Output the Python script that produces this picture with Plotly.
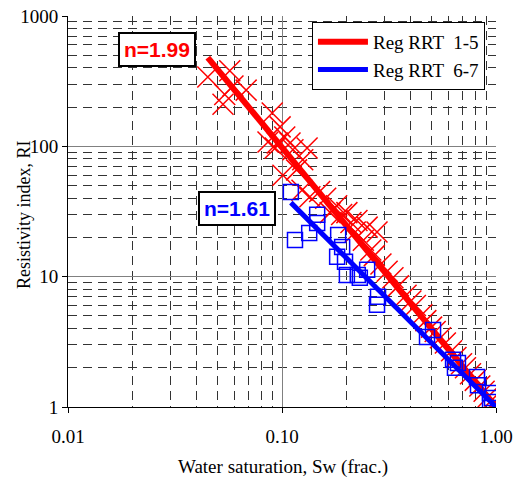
import plotly.graph_objects as go

# RRT 1-5 data (red crosses)
red_sw = [0.045, 0.057, 0.054, 0.053, 0.059, 0.068, 0.090, 0.098, 0.086, 0.093,
          0.109, 0.1125, 0.095, 0.103, 0.125, 0.131, 0.101, 0.117, 0.124, 0.135,
          0.168, 0.201, 0.224, 0.250, 0.278, 0.150, 0.160, 0.180, 0.190, 0.210,
          0.220, 0.240, 0.260, 0.270, 0.290, 0.310, 0.330, 0.350, 0.380, 0.400,
          0.420, 0.450, 0.470, 0.500, 0.520, 0.550, 0.580, 0.620, 0.650, 0.690,
          0.720, 0.760, 0.800, 0.840, 0.880, 0.920, 0.950, 0.980, 1.000, 0.990]
red_ri = [340, 380, 250, 210, 290, 270, 180, 141, 108, 97,
          106, 94, 106, 118, 79, 97, 60, 66, 46, 41,
          31, 31, 27, 24, 22, 45, 40, 35, 30, 26,
          22, 19, 16, 14.5, 12.5, 11, 9.8, 8.5, 7.2, 6.5,
          6.0, 5.1, 4.6, 4.1, 3.8, 3.4, 3.1, 2.7, 2.4, 2.15,
          2.0, 1.8, 1.6, 1.45, 1.32, 1.2, 1.12, 1.05, 1.0, 1.1]

# RRT 6-7 data (blue squares)
blue_sw = [0.110, 0.146, 0.146, 0.134, 0.115, 0.183, 0.191, 0.181, 0.197, 0.201,
           0.226, 0.250, 0.231, 0.281, 0.278, 0.508, 0.476, 0.630, 0.643, 0.664,
           0.815, 0.824, 0.938, 0.958, 0.938]
blue_ri = [44.7, 29.8, 25.8, 21.6, 19.1, 20.9, 16.9, 14.2, 13.0, 10.3,
           10.3, 11.3, 9.8, 7.0, 6.1, 3.9, 3.45, 2.3, 2.0, 2.18,
           1.70, 1.47, 1.28, 1.17, 1.09]

# Regression line end points
red_line_sw = [0.045, 1.0]
red_line_ri = [480, 1.0]
blue_line_sw = [0.11, 1.0]
blue_line_ri = [37, 1.0]

x_ticks = [0.01, 0.1, 1.0]
x_tick_text = ["0.01", "0.10", "1.00"]
y_ticks = [1, 10, 100, 1000]
y_tick_text = ["1", "10", "100", "1000"]

serif = "Liberation Serif, Times New Roman, serif"

fig = go.Figure()
fig.add_trace(go.Scatter(x=red_sw, y=red_ri, mode="markers", showlegend=False,
                         marker=dict(symbol="x-thin-open", size=21, color="red",
                                     line=dict(color="red", width=1.5))))
fig.add_trace(go.Scatter(x=red_line_sw, y=red_line_ri, mode="lines",
                         name="Reg RRT  1-5", line=dict(color="red", width=6)))
fig.add_trace(go.Scatter(x=blue_sw, y=blue_ri, mode="markers", showlegend=False,
                         marker=dict(symbol="square-open", size=15, color="blue",
                                     line=dict(color="blue", width=1.5))))
fig.add_trace(go.Scatter(x=blue_line_sw, y=blue_line_ri, mode="lines",
                         name="Reg RRT  6-7", line=dict(color="blue", width=5)))

grid_minor = dict(dtick="D1", showgrid=True, gridcolor="#333333", gridwidth=1,
                  griddash="9px,6px", ticks="")

fig.update_xaxes(type="log", range=[-2, 0], tickvals=x_ticks, ticktext=x_tick_text,
                 showgrid=True, gridcolor="#808080", gridwidth=1.2,
                 showline=True, linecolor="black", linewidth=1,
                 ticks="outside", ticklen=5, tickcolor="black", ticklabelstandoff=7,
                 tickfont=dict(family=serif, size=19, color="black"),
                 minor=grid_minor, zeroline=False, automargin=False)
fig.update_yaxes(type="log", range=[0, 3], tickvals=y_ticks, ticktext=y_tick_text,
                 showgrid=True, gridcolor="#808080", gridwidth=1.2,
                 showline=True, linecolor="black", linewidth=1,
                 ticks="outside", ticklen=5, tickcolor="black",
                 tickfont=dict(family=serif, size=19, color="black"),
                 minor=grid_minor, zeroline=False, automargin=False)

# axis titles
fig.add_annotation(xref="paper", yref="paper", x=(283 - 68) / 428, y=1 - (467 - 16) / 391,
                   text="Water saturation, Sw (frac.)", showarrow=False,
                   xanchor="center", yanchor="middle",
                   font=dict(family=serif, size=19, color="black"))
fig.add_annotation(xref="paper", yref="paper", x=(24 - 68) / 428, y=1 - (215 - 16) / 391,
                   text="Resistivity index, RI", showarrow=False, textangle=-90,
                   xanchor="center", yanchor="middle",
                   font=dict(family=serif, size=18, color="black"))

fig.add_annotation(xref="paper", yref="paper", x=(157 - 68) / 428, y=1 - (50 - 16) / 391,
                   text="<b>n=1.99</b>", showarrow=False,
                   xanchor="center", yanchor="middle",
                   font=dict(family="Liberation Sans, Arial, sans-serif", size=21, color="red"),
                   bgcolor="white", bordercolor="black", borderwidth=2, borderpad=4)
fig.add_annotation(xref="paper", yref="paper", x=(237 - 68) / 428, y=1 - (209 - 16) / 391,
                   text="<b>n=1.61</b>", showarrow=False,
                   xanchor="center", yanchor="middle",
                   font=dict(family="Liberation Sans, Arial, sans-serif", size=21, color="blue"),
                   bgcolor="white", bordercolor="black", borderwidth=2, borderpad=4)

fig.update_layout(
    width=523, height=477,
    margin=dict(l=68, r=27, t=16, b=70),
    paper_bgcolor="white", plot_bgcolor="white",
    legend=dict(x=0.57, y=0.985, xanchor="left", yanchor="top",
                bgcolor="white", bordercolor="black", borderwidth=1,
                font=dict(family=serif, size=19, color="black"),
                itemwidth=50),
)

fig.write_html("out.html", config={"displayModeBar": False},
               post_script="document.body.style.margin='0px';")
